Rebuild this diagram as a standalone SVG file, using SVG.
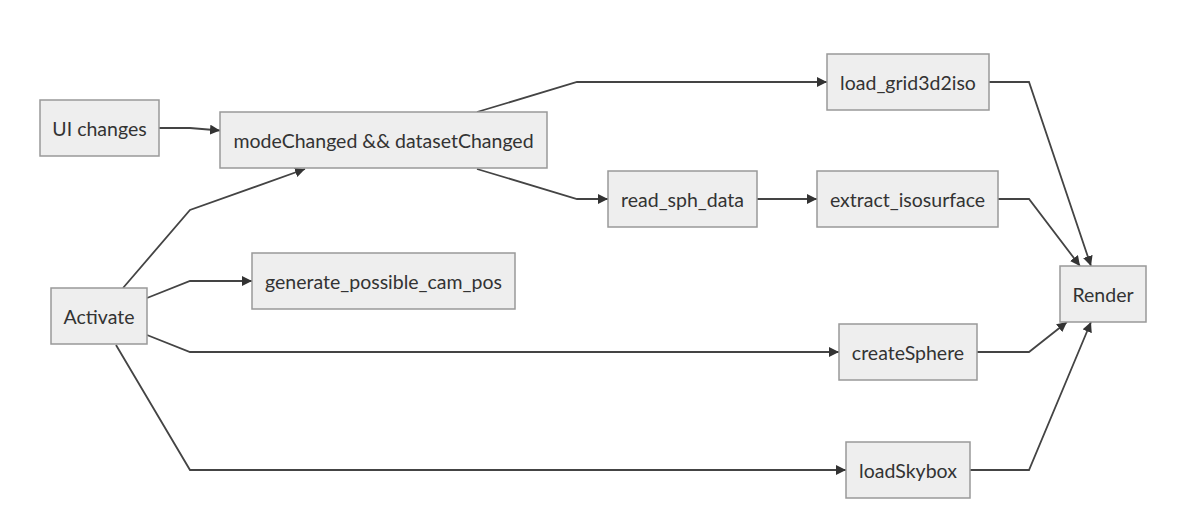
<svg xmlns="http://www.w3.org/2000/svg" width="1203" height="521" viewBox="0 0 1203 521">
<style>
.node rect{fill:#eeeeee;stroke:#999999;stroke-width:1.5px}
.node text{font-family:Lato,"Noto Sans",sans-serif;font-size:19.5px;fill:#333333;text-anchor:middle;dominant-baseline:central}
.edges path{fill:none;stroke:#444444;stroke-width:1.8px}
</style>
<defs>
<marker id="arrow" viewBox="0 0 10 10" refX="10" refY="5" markerWidth="10" markerHeight="10" markerUnits="userSpaceOnUse" orient="auto">
<path d="M0,0 L10,5 L0,10 z" fill="#333333"/>
</marker>
</defs>
<rect width="1203" height="521" fill="#ffffff"/>
<g class="edges">
<path d="M159,128 L190,128 L220,130.5" marker-end="url(#arrow)"/>
<path d="M123,288 L190,210 L305,169" marker-end="url(#arrow)"/>
<path d="M147,298 L190,281 L252,281" marker-end="url(#arrow)"/>
<path d="M147,335 L190,352 L839,352" marker-end="url(#arrow)"/>
<path d="M116,345 L190,470 L846,470" marker-end="url(#arrow)"/>
<path d="M477,112 L577,82 L827,82" marker-end="url(#arrow)"/>
<path d="M477,169 L577,199 L608,199" marker-end="url(#arrow)"/>
<path d="M757,199 L817,199" marker-end="url(#arrow)"/>
<path d="M989,82 L1029,82 L1091,266" marker-end="url(#arrow)"/>
<path d="M998,199 L1029,199 L1080,266" marker-end="url(#arrow)"/>
<path d="M977,352 L1029,352 L1067,322" marker-end="url(#arrow)"/>
<path d="M970,470 L1029,470 L1091,322" marker-end="url(#arrow)"/>
</g>
<g id="ui" class="node"><rect x="40" y="100" width="119" height="56"/><text x="99.5" y="128">UI changes</text></g>
<g id="mode" class="node"><rect x="220" y="112" width="327" height="56"/><text x="383.5" y="140">modeChanged &amp;&amp; datasetChanged</text></g>
<g id="activate" class="node"><rect x="51" y="288" width="96" height="56"/><text x="99" y="316">Activate</text></g>
<g id="gen" class="node"><rect x="252" y="253" width="263" height="56"/><text x="383.5" y="281">generate_possible_cam_pos</text></g>
<g id="loadgrid" class="node"><rect x="827" y="54" width="162" height="56"/><text x="908" y="82">load_grid3d2iso</text></g>
<g id="readsph" class="node"><rect x="608" y="171" width="149" height="56"/><text x="682.5" y="199">read_sph_data</text></g>
<g id="extract" class="node"><rect x="817" y="171" width="181" height="56"/><text x="907.5" y="199">extract_isosurface</text></g>
<g id="render" class="node"><rect x="1060" y="266" width="86" height="56"/><text x="1103" y="294">Render</text></g>
<g id="sphere" class="node"><rect x="839" y="324" width="138" height="56"/><text x="908" y="352">createSphere</text></g>
<g id="skybox" class="node"><rect x="846" y="442" width="124" height="56"/><text x="908" y="470">loadSkybox</text></g>
</svg>
